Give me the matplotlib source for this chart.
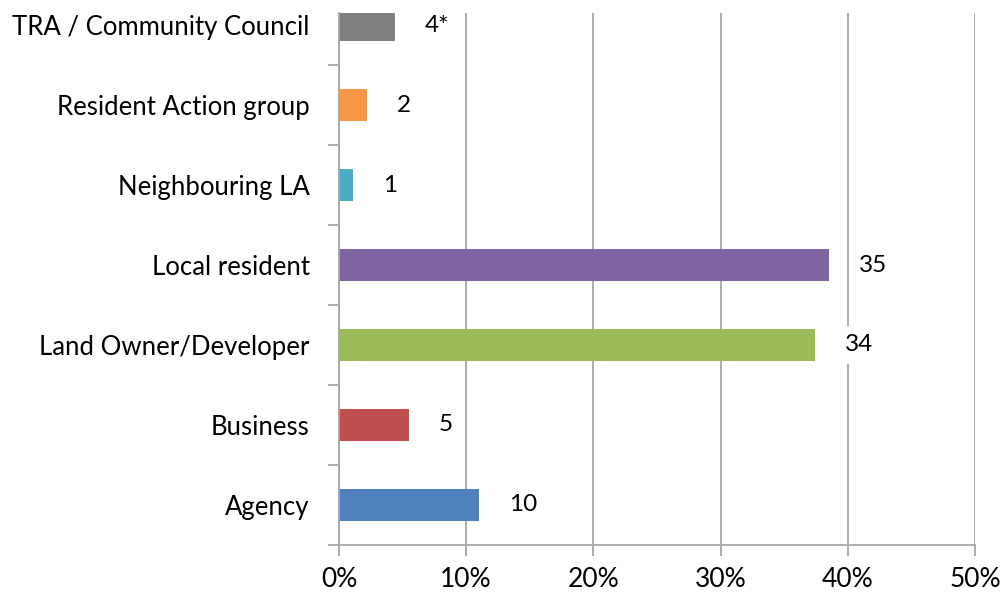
"""Respondent types as share of all responses, horizontal bar chart."""

import matplotlib

matplotlib.use("Agg")
import matplotlib.pyplot as plt
import numpy as np
from matplotlib.ticker import FixedLocator, PercentFormatter

# Bottom-to-top order, as drawn.
categories = [
    "Agency",
    "Business",
    "Land Owner/Developer",
    "Local resident",
    "Neighbouring LA",
    "Resident Action group",
    "TRA / Community Council",
]
# Share of responses (%).
shares = [11.0, 5.5, 37.4, 38.5, 1.1, 2.2, 4.4]
# Response counts printed beside each bar.
count_labels = ["10", "5", "34", "35", "1", "2", "4*"]
colors = ["#4F81BD", "#C0504D", "#9BBB59", "#8064A2", "#4BACC6", "#F79646", "#7F7F7F"]
x_ticks = [0, 10, 20, 30, 40, 50]

plt.rcParams["font.family"] = ["Lato", "DejaVu Sans"]
GRID = "#A6A6A6"

fig = plt.figure(figsize=(10.02, 6.0), dpi=100)
ax = fig.add_axes([0.3383, 0.0917, 0.6348, 0.8866])

y = np.arange(len(categories))
ax.barh(y, shares, height=0.41, color=colors, zorder=2)

for yi, val, lab in zip(y, shares, count_labels):
    ax.annotate(lab, (val, yi), xytext=(30, 0), textcoords="offset pixels",
                ha="left", va="center", fontsize=17.5, color="black", zorder=3,
                bbox=dict(facecolor="white", edgecolor="none", pad=6))

ax.set_xlim(0, 50)
ax.set_ylim(-0.5, 6.15)
ax.xaxis.set_major_locator(FixedLocator(x_ticks))
ax.xaxis.set_major_formatter(PercentFormatter(decimals=0))
ax.grid(axis="x", color=GRID, linewidth=1.3, zorder=0)
ax.set_axisbelow(True)

ax.set_yticks(y)
ax.set_yticklabels(categories)
ax.set_yticks(np.arange(-0.5, len(categories) - 0.5, 1.0), minor=True)
ax.tick_params(axis="y", which="major", length=0, pad=21, labelsize=18.5)
ax.tick_params(axis="y", which="minor", length=8, width=1.3, color=GRID,
               direction="out")
ax.tick_params(axis="x", length=8, width=1.3, color=GRID, direction="out",
               pad=8, labelsize=19)

for side in ("top", "right"):
    ax.spines[side].set_visible(False)
for side in ("left", "bottom"):
    ax.spines[side].set_color(GRID)
    ax.spines[side].set_linewidth(1.3)

fig.savefig("out.png", dpi=100)
